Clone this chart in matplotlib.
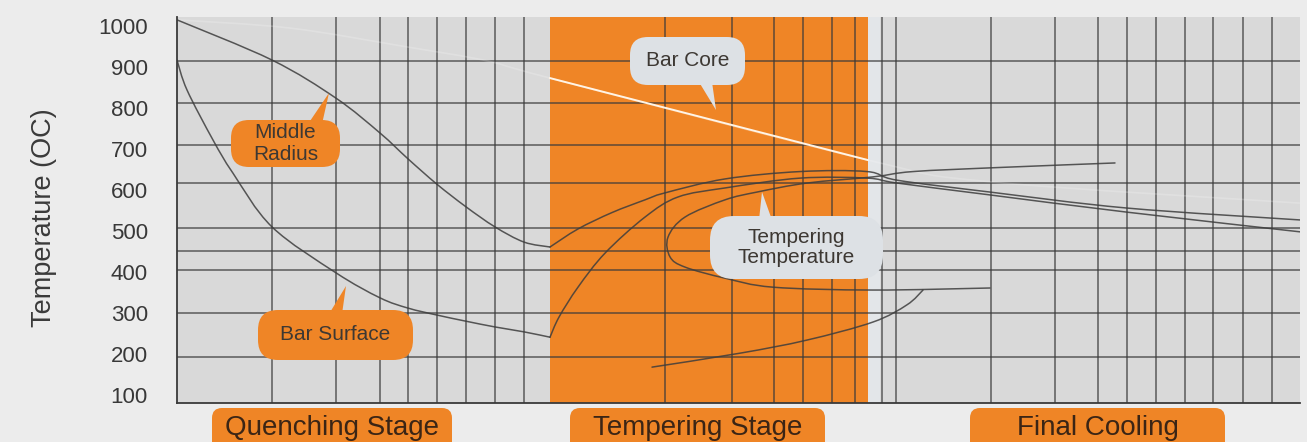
import matplotlib
matplotlib.use("Agg")
import matplotlib.pyplot as plt
from matplotlib.patches import FancyBboxPatch, Polygon, PathPatch
from matplotlib.path import Path
import numpy as np

plt.rcParams['font.family'] = ['Liberation Sans', 'DejaVu Sans']

# --- data (time in arbitrary units, temperature in degC) ---
temp_ticks = [100, 200, 300, 400, 500, 600, 700, 800, 900, 1000]
h_grid = [915, 812, 710, 617, 507, 451, 405, 300, 193]
v_grid = [95, 159, 203, 231, 260, 289, 318, 347,
          488, 555, 597, 626, 655, 678,
          705, 719, 814, 878, 921, 950, 979, 1008, 1036, 1066, 1095]

temper_span = (373, 691)
final_start = 703

# middle radius: quenching, then tempering + final cooling
mid_q_t = [0, 95, 159, 203, 231, 260, 289, 318, 347, 373]
mid_q_T = [1015, 917, 824, 739, 676, 614, 559, 510, 473, 461]
mid_r_t = [373, 401, 435, 468, 488, 548, 623, 690, 720, 813, 950, 1123]
mid_r_T = [461, 505, 545, 576, 593, 627, 645, 645, 624, 595, 556, 527]

# bar surface
surf_q_t = [0, 10, 36, 56, 95, 159, 203, 231, 260, 289, 318, 347, 373]
surf_q_T = [917, 844, 722, 641, 510, 398, 337, 312, 295, 280, 266, 254, 241]
surf_r_t = [373, 382, 401, 428, 468, 501, 548, 623, 690, 720, 813, 950, 1123]
surf_T_r = [241, 290, 363, 446, 534, 583, 605, 629, 629, 617, 588, 546, 498]

# tempering temperature hook curve
hook_t = [813, 696, 596, 548, 508, 493, 491, 508, 548, 580, 630, 696, 736, 823, 938]
hook_T = [361, 356, 363, 385, 412, 437, 485, 534, 576, 595, 617, 632, 645, 655, 666]

# low curve in tempering stage
low_t = [475, 563, 630, 696, 730, 746]
low_T = [168, 202, 234, 278, 320, 356]

# bar core
core_t = [0, 113, 230, 310, 373, 691, 813, 1123]
core_T = [1015, 995, 949, 915, 873, 673, 620, 568]

grey_bg = '#d9d9d9'
orange = '#ef8526'
line_col = '#3a3a3a'


def smooth_path(t, T):
    # Catmull-Rom spline through the points, as cubic Bezier segments
    p = np.column_stack([t, T]).astype(float)
    ext = np.vstack([p[0], p, p[-1]])
    verts = [p[0]]
    codes = [Path.MOVETO]
    for i in range(len(p) - 1):
        p0, p1, p2, p3 = ext[i], ext[i + 1], ext[i + 2], ext[i + 3]
        verts += [p1 + (p2 - p0) / 6, p2 - (p3 - p1) / 6, p2]
        codes += [Path.CURVE4] * 3
    return Path(verts, codes)


def draw_curve(ax, t, T, **kw):
    ax.add_patch(PathPatch(smooth_path(t, T), fill=False, **kw))


fig = plt.figure(figsize=(13.07, 4.42), dpi=100)
fig.patch.set_facecolor('#ececec')
ax = fig.add_axes([177 / 1307, 39 / 442, 1123 / 1307, 386 / 442])
ax.set_xlim(0, 1123)
ax.set_ylim(80.5, 1022)
ax.set_facecolor(grey_bg)

# stage backgrounds
ax.axvspan(*temper_span, color=orange, zorder=0, lw=0)
ax.axvspan(temper_span[1], final_start, color='#e3e6e9', zorder=0, lw=0)

# grid
for y in h_grid:
    ax.axhline(y, color=line_col, lw=1.1, alpha=0.8, zorder=1)
for x in v_grid:
    ax.axvline(x, color=line_col, lw=1.1, alpha=0.8, zorder=1)

# bar core: barely visible on grey, clear white on orange
draw_curve(ax, core_t, core_T, ec='white', lw=1.2, alpha=0.2, zorder=2)
core_t = np.array(core_t)
core_T = np.array(core_T)
m = (core_t >= temper_span[0]) & (core_t <= temper_span[1])
ax.plot(core_t[m], core_T[m], color='#fff4e6', lw=1.4, zorder=2)

for t, T in [(mid_q_t, mid_q_T), (mid_r_t, mid_r_T),
             (surf_q_t, surf_q_T), (surf_r_t, surf_T_r),
             (hook_t, hook_T), (low_t, low_T)]:
    draw_curve(ax, t, T, ec='#3d3d3d', lw=1.1, alpha=0.85, zorder=2,
               capstyle='round', joinstyle='round')

# axes look
for s in ['top', 'right']:
    ax.spines[s].set_visible(False)
for s in ['left', 'bottom']:
    ax.spines[s].set_color(line_col)
    ax.spines[s].set_linewidth(1.3)
ax.set_xticks([])
ax.set_yticks(temp_ticks)
ax.set_yticklabels([str(v) for v in temp_ticks])
ax.tick_params(axis='y', length=0, pad=21, labelsize=16, labelcolor='#383838')

fig.text(44 / 1307, 1 - 218 / 442, 'Temperature (OC)', rotation=90,
         ha='center', va='center', fontsize=19.5, color='#3a3a3a')

# --- callouts, drawn in pixel space on an overlay ---
ov = fig.add_axes([0, 0, 1, 1])
ov.set_xlim(0, 1307)
ov.set_ylim(442, 0)
ov.axis('off')
ov.patch.set_alpha(0)

box_grey = '#dde1e5'
txt_dark = '#3d3833'


def callout(x0, y0, w, h, r, fc, text, tail, fs=15, ls=1.0):
    ov.add_patch(Polygon(tail, closed=True, fc=fc, ec='none'))
    ov.add_patch(FancyBboxPatch((x0, y0), w, h,
                                boxstyle=f"round,pad=0,rounding_size={r}",
                                fc=fc, ec='none'))
    ov.text(x0 + w / 2, y0 + h / 2, text, ha='center', va='center',
            fontsize=fs, color=txt_dark, linespacing=ls)


callout(231, 120, 109, 47, 18, orange, 'Middle\nRadius',
        [(308, 124), (322, 124), (329, 93)], ls=1.2)
callout(258, 310, 155, 50, 20, orange, 'Bar Surface',
        [(329, 314), (342, 314), (346, 286)])
callout(630, 37, 115, 48, 18, box_grey, 'Bar Core',
        [(699, 82), (712, 82), (716, 110)])
callout(710, 216, 173, 63, 24, box_grey, 'Tempering\nTemperature',
        [(759, 220), (772, 220), (762, 192)], ls=1.05)

# stage labels
for x0, x1, label in [(212, 452, 'Quenching Stage'),
                      (570, 825, 'Tempering Stage'),
                      (970, 1225, 'Final Cooling')]:
    ov.add_patch(FancyBboxPatch((x0, 408), x1 - x0, 60,
                                boxstyle="round,pad=0,rounding_size=10",
                                fc=orange, ec='none'))
    ov.text((x0 + x1) / 2, 435, label, ha='center', va='baseline',
            fontsize=20, color='#3b2515')

fig.savefig('out.png', dpi=100, facecolor=fig.get_facecolor())
